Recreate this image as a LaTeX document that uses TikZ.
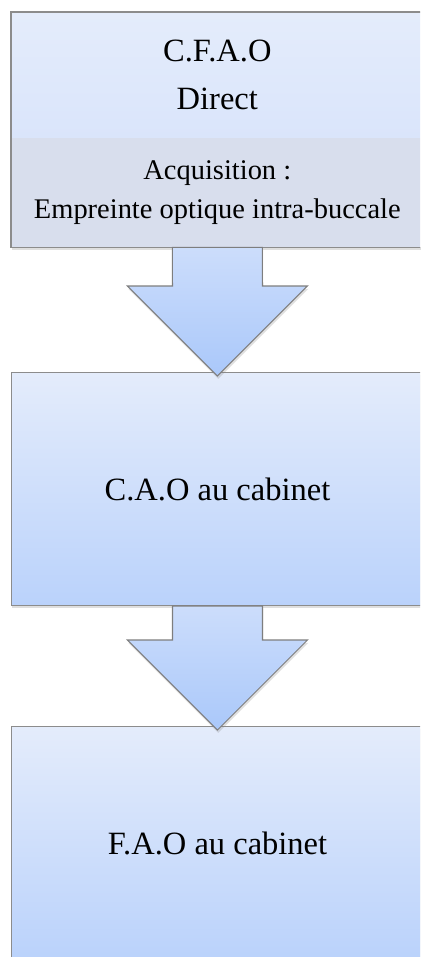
\documentclass[tikz,border=0pt]{standalone}
\usepackage{fontspec}
\setmainfont{Liberation Serif}
\usetikzlibrary{positioning,calc,shadows,backgrounds}
\definecolor{boxtop}{RGB}{228,236,251}
\definecolor{boxmid}{RGB}{218,229,251}
\definecolor{boxbot}{RGB}{186,210,251}
\definecolor{bandgray}{RGB}{216,222,237}
\definecolor{arrowtop}{RGB}{204,221,251}
\definecolor{arrowbot}{RGB}{170,200,250}
\definecolor{edgegray}{RGB}{140,140,140}

\tikzset{
  softshadow/.style={drop shadow={opacity=0.25, shadow xshift=0.4pt, shadow yshift=-1.6pt}},
  stage/.style={draw=edgegray, line width=0.6pt, rectangle, minimum width=8.24cm,
    top color=boxtop, bottom color=boxbot, align=center, inner sep=0pt,
    font=\fontsize{18.5}{27}\selectfont, softshadow},
  headpart/.style={rectangle, minimum width=8.24cm, top color=boxtop, bottom color=boxmid,
    align=center, inner sep=0pt, font=\fontsize{18.5}{27}\selectfont},
  band/.style={rectangle, minimum width=8.24cm,
    minimum height=2.18cm, fill=bandgray, align=center, inner sep=0pt,
    font=\fontsize{16.2}{22}\selectfont},
  outline/.style={draw=edgegray, line width=0.6pt},
  flowarrow/.style={draw=edgegray!90!black, line width=0.6pt, line join=miter,
    top color=arrowtop, bottom color=arrowbot, softshadow}
}

% block arrow from the bottom of #1 to the top of #2
\newcommand{\blockdown}[2]{%
  \draw[flowarrow] ($(#1.south)+(-45,0)$) -- ($(#1.south)+(45,0)$)
    -- ($(#2.north)+(45,-86)$) -- ($(#2.north)+(90,-86)$)
    -- ($(#2.north)+(0,4)$)
    -- ($(#2.north)+(-90,-86)$) -- ($(#2.north)+(-45,-86)$) -- cycle;}

\begin{document}
\begin{tikzpicture}[x=0.02cm,y=-0.02cm]
  \useasboundingbox (0,0) rectangle (420,957);
  \clip (0,0) rectangle (420,957);

  % Stages
  \node[headpart, anchor=north west, minimum height=2.5cm] (cfao) at (11,12) {C.F.A.O\\Direct};
  \node[band, below=0pt of cfao] (acq) {Acquisition :\\Empreinte optique intra-buccale};
  \begin{scope}[on background layer]
    \fill[white, softshadow] (cfao.north west) rectangle (acq.south east);
  \end{scope}
  \draw[outline] (cfao.north west) rectangle (acq.south east);
  \node[stage, anchor=north west, minimum height=4.66cm] (cao) at (11,372) {C.A.O au cabinet};
  \node[stage, anchor=north west, minimum height=4.66cm] (fao) at (11,726) {F.A.O au cabinet};

  % Arrows
  \blockdown{acq}{cao}
  \blockdown{cao}{fao}
\end{tikzpicture}
\end{document}
